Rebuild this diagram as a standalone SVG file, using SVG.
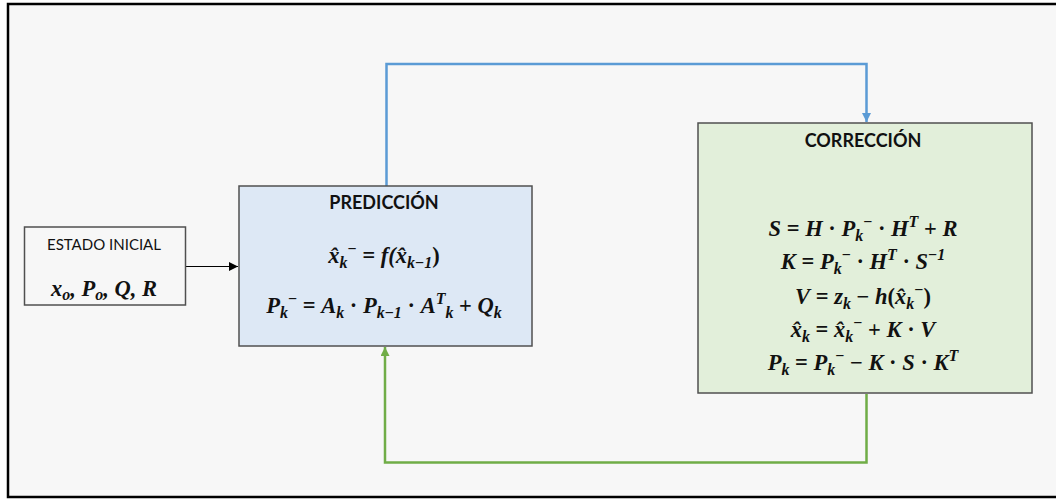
<svg xmlns="http://www.w3.org/2000/svg" width="1056" height="499" viewBox="0 0 1056 499">
  <style>
    .frame { fill: #f7f7f7; stroke: #000; stroke-width: 2.5; }
    .box { stroke: #505050; stroke-width: 1.5; }
    .title { font-family: Lato, "Liberation Sans", sans-serif; font-weight: bold; font-size: 18px; fill: #111; text-anchor: middle; }
    .label { font-family: Lato, "Liberation Sans", sans-serif; font-size: 15px; fill: #111; text-anchor: middle; }
    .math { font-family: "Liberation Serif", "DejaVu Serif", serif; font-weight: bold; font-style: italic; font-size: 22.5px; fill: #111; text-anchor: middle; }
    .s { font-size: 16px; }
    .up { font-style: normal; }
    .link { fill: none; stroke-width: 2.5; }
  </style>
  <defs>
    <marker id="arrBlack" viewBox="0 0 10 10" refX="10" refY="5" markerWidth="9" markerHeight="9" markerUnits="userSpaceOnUse" orient="auto">
      <path d="M0,0 L10,5 L0,10 Z" fill="#000"/>
    </marker>
    <marker id="arrBlue" viewBox="0 0 10 10" refX="10" refY="5" markerWidth="9" markerHeight="9" markerUnits="userSpaceOnUse" orient="auto">
      <path d="M0,0 L10,5 L0,10 Z" fill="#5b9bd5"/>
    </marker>
    <marker id="arrGreen" viewBox="0 0 10 10" refX="10" refY="5" markerWidth="9" markerHeight="9" markerUnits="userSpaceOnUse" orient="auto">
      <path d="M0,0 L10,5 L0,10 Z" fill="#70ad47"/>
    </marker>
  </defs>

  <rect width="1056" height="499" fill="#fff"/>
  <rect class="frame" x="8" y="4" width="1060" height="493"/>

  <!-- connectors -->
  <g id="connectors">
    <line x1="186" y1="266.5" x2="238" y2="266.5" stroke="#000" stroke-width="1" marker-end="url(#arrBlack)"/>
    <path class="link" d="M386.5,186 V64 H866.5 V122" stroke="#5b9bd5" marker-end="url(#arrBlue)"/>
    <path class="link" d="M866.5,394 V462.5 H385 V347" stroke="#70ad47" marker-end="url(#arrGreen)"/>
  </g>

  <!-- initial state -->
  <g id="estado-inicial">
    <rect class="box" x="24.5" y="227" width="161" height="78" fill="#f7f7f7"/>
    <text class="label" x="104" y="250">ESTADO INICIAL</text>
    <text class="math" x="104" y="296" font-size="19.5">x<tspan class="s" font-size="14" dy="4">o</tspan><tspan dy="-4">, P</tspan><tspan class="s" font-size="14" dy="4">o</tspan><tspan dy="-4">, Q, R</tspan></text>
  </g>

  <!-- prediction step -->
  <g id="prediccion">
    <rect class="box" x="239" y="186" width="293" height="160" fill="#dde8f5"/>
    <text class="title" x="384" y="209">PREDICCIÓN</text>
    <text class="math" x="384" y="263">x̂<tspan class="s" dy="5">k</tspan><tspan class="s up" dy="-14">−</tspan><tspan dy="9"> = f(x̂</tspan><tspan class="s" dy="5">k<tspan class="up">−</tspan>1</tspan><tspan class="up" dy="-5">)</tspan></text>
    <text class="math" x="384" y="313">P<tspan class="s" dy="5">k</tspan><tspan class="s up" dy="-14">−</tspan><tspan dy="9"><tspan class="up"> = </tspan>A</tspan><tspan class="s" dy="5">k</tspan><tspan class="up" dy="-5"> · </tspan>P<tspan class="s" dy="5">k<tspan class="up">−</tspan>1</tspan><tspan class="up" dy="-5"> · </tspan>A<tspan class="s" dy="-9">T</tspan><tspan class="s" dy="14">k</tspan><tspan class="up" dy="-5"> + </tspan>Q<tspan class="s" dy="5">k</tspan></text>
  </g>

  <!-- correction step -->
  <g id="correccion">
    <rect class="box" x="698" y="123" width="334" height="270" fill="#e2efda"/>
    <text class="title" x="863" y="147">CORRECCIÓN</text>
    <text class="math" x="863" y="236">S<tspan class="up"> = </tspan>H<tspan class="up"> · </tspan>P<tspan class="s" dy="5">k</tspan><tspan class="s up" dy="-14">−</tspan><tspan class="up" dy="9"> · </tspan>H<tspan class="s" dy="-9">T</tspan><tspan class="up" dy="9"> + </tspan>R</text>
    <text class="math" x="863" y="269">K<tspan class="up"> = </tspan>P<tspan class="s" dy="5">k</tspan><tspan class="s up" dy="-14">−</tspan><tspan class="up" dy="9"> · </tspan>H<tspan class="s" dy="-9">T</tspan><tspan class="up" dy="9"> · </tspan>S<tspan class="s" dy="-9"><tspan class="up">−</tspan>1</tspan></text>
    <text class="math" x="863" y="304">V<tspan class="up"> = </tspan>z<tspan class="s" dy="5">k</tspan><tspan class="up" dy="-5"> − </tspan>h<tspan class="up">(</tspan>x̂<tspan class="s" dy="5">k</tspan><tspan class="s up" dy="-14">−</tspan><tspan class="up" dy="9">)</tspan></text>
    <text class="math" x="863" y="337">x̂<tspan class="s" dy="5">k</tspan><tspan class="up" dy="-5"> =  </tspan>x̂<tspan class="s" dy="5">k</tspan><tspan class="s up" dy="-14">−</tspan><tspan class="up" dy="9"> + </tspan>K<tspan class="up"> · </tspan>V</text>
    <text class="math" x="863" y="370">P<tspan class="s" dy="5">k</tspan><tspan class="up" dy="-5"> = </tspan>P<tspan class="s" dy="5">k</tspan><tspan class="s up" dy="-14">−</tspan><tspan class="up" dy="9"> − </tspan>K<tspan class="up"> · </tspan>S<tspan class="up"> · </tspan>K<tspan class="s" dy="-9">T</tspan></text>
  </g>
</svg>
